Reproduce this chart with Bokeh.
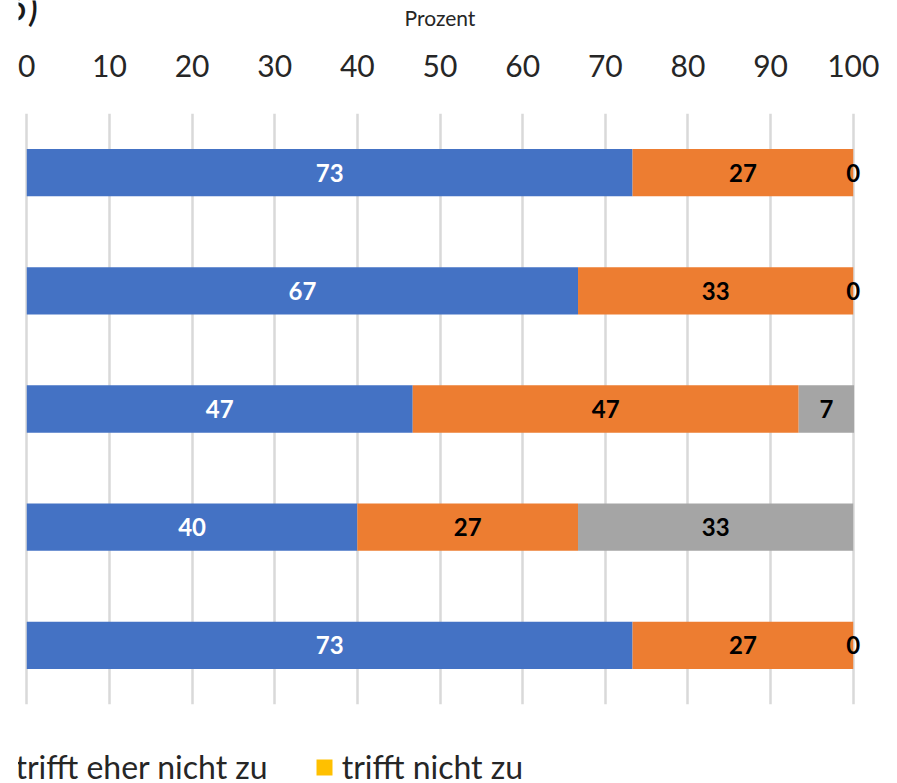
from bokeh.plotting import figure
from bokeh.models import (ColumnDataSource, Legend, LegendItem, Label, FixedTicker,
                          Range1d, Column)
from bokeh.core.properties import value
from bokeh.embed import file_html
from bokeh.resources import INLINE

# ---- data ----
categories = ["1", "2", "3", "4", "5"]
series_names = ["trifft zu", "trifft eher zu", "trifft eher nicht zu", "trifft nicht zu"]
trifft_zu = [73.3, 66.7, 46.7, 40.0, 73.3]
trifft_eher_zu = [26.7, 33.3, 46.7, 26.7, 26.7]
trifft_eher_nicht_zu = [0.0, 0.0, 6.7, 33.3, 0.0]
trifft_nicht_zu = [0.0, 0.0, 0.0, 0.0, 0.0]
x_ticks = [0, 10, 20, 30, 40, 50, 60, 70, 80, 90, 100]
x_title = "Prozent"
panel_tag = "5)"
colors = ["#4472C4", "#ED7D31", "#A5A5A5", "#FFC000"]
label_colors = ["white", "black", "black", None]

FONT = "Lato"
W, H = 897, 783

series = [trifft_zu, trifft_eher_zu, trifft_eher_nicht_zu, trifft_nicht_zu]
n = len(categories)
ypos = [n - i for i in range(n)]  # first category on top

# ---------------- main chart ----------------
p = figure(width=W, height=H, output_backend="svg", toolbar_location=None,
           x_range=(-1, 101), y_range=(0.5, n + 0.5), x_axis_location="above",
           min_border_left=18, min_border_right=36, min_border_top=113, min_border_bottom=79)
p.outline_line_color = None
p.yaxis.visible = False
p.ygrid.visible = False

xa = p.xaxis[0]
xa.ticker = FixedTicker(ticks=x_ticks)
xa.axis_label = x_title
xa.axis_label_text_font = FONT
xa.axis_label_text_font_size = "21px"
xa.axis_label_text_font_style = "normal"
xa.axis_label_text_color = "#262626"
xa.axis_label_standoff = 22
xa.major_label_text_font = FONT
xa.major_label_text_font_size = "30px"
xa.major_label_text_color = "#262626"
xa.major_label_standoff = 31
xa.axis_line_color = None
xa.major_tick_line_color = None
xa.minor_tick_line_color = None

p.xgrid.ticker = FixedTicker(ticks=x_ticks)
p.xgrid.grid_line_color = "#D9D9D9"
p.xgrid.grid_line_width = 2.5

left = [0.0] * n
for k, vals in enumerate(series):
    right = [l + v for l, v in zip(left, vals)]
    src = ColumnDataSource(dict(y=ypos, left=left, right=right))
    p.hbar(y="y", left="left", right="right", height=0.4, source=src,
           fill_color=colors[k], line_color=None)
    if label_colors[k] is not None:
        lsrc = ColumnDataSource(dict(
            x=[(l + rr) / 2 for l, rr in zip(left, right)], y=ypos,
            t=[str(int(round(v))) for v in vals]))
        p.text(x="x", y="y", text="t", source=lsrc, text_align="center",
               text_baseline="middle", text_font=value(FONT), text_font_style="bold",
               text_font_size="24px", text_color=label_colors[k])
    left = right

# ---------------- overlay: legend and panel tag (full-canvas frame) ----------------
ov = figure(width=W, height=H, output_backend="svg", toolbar_location=None,
            x_range=Range1d(0, W), y_range=Range1d(H, 0),
            min_border=0, min_border_left=0, min_border_right=0,
            min_border_top=0, min_border_bottom=0, margin=(-H, 0, 0, 0))
ov.axis.visible = False
ov.grid.visible = False
ov.outline_line_color = None
ov.background_fill_alpha = 0
ov.border_fill_alpha = 0

# legend swatches: one bar each, placed outside the visible range
leg_renderers = [ov.hbar(y=[-100], left=[0], right=[1], height=1, fill_color=c, line_color=None)
                 for c in colors]
legend = Legend(items=[LegendItem(label=nm, renderers=[r])
                       for nm, r in zip(series_names, leg_renderers)],
                orientation="horizontal", location=(-456, -3),
                label_text_font=FONT, label_text_font_size="32px", label_text_color="#262626",
                glyph_width=20, glyph_height=20, spacing=46, padding=0, margin=0,
                label_standoff=8, border_line_color=None, background_fill_alpha=0)
ov.add_layout(legend, "center")

ov.add_layout(Label(x=-15, y=5, text=panel_tag, text_font=FONT, text_font_size="40px",
                    text_color="#1a1a1a", text_baseline="alphabetic", text_align="left"))

layout = Column(children=[p, ov], spacing=0)

open("out.html", "w").write(file_html(layout, INLINE))
